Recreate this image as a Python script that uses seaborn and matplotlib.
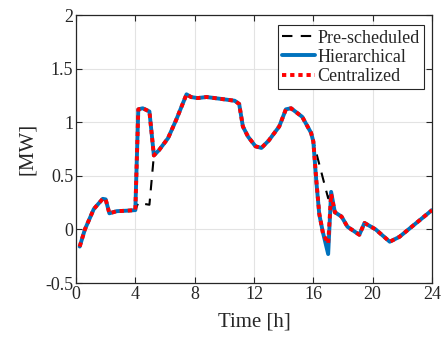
import numpy as np
import pandas as pd
import matplotlib
matplotlib.use("Agg")
import matplotlib.pyplot as plt
from matplotlib.ticker import FuncFormatter
import seaborn as sns

# Time axis (hours) and power profiles (MW)
time_h = [0.25, 0.6, 1.2, 1.8, 2.0, 2.25, 2.75, 3.5, 4.0, 4.2, 4.5, 4.95, 5.25,
          5.6, 6.2, 6.75, 7.45, 7.75, 8.2, 8.8, 9.9, 10.7, 11.0, 11.25, 11.6,
          12.1, 12.5, 13.0, 13.7, 14.15, 14.5, 15.25, 15.85, 16.0, 16.2, 16.4,
          16.65, 17.0, 17.2, 17.45, 17.9, 18.3, 19.1, 19.45, 20.2, 21.15, 21.8,
          22.9, 24.0]

pre_scheduled = [-0.16, 0.0, 0.19, 0.285, 0.28, 0.15, 0.17, 0.175, 0.18, 0.25,
                 0.24, 0.23, 0.69, 0.74, 0.85, 1.02, 1.26, 1.235, 1.225, 1.235,
                 1.215, 1.20, 1.17, 0.96, 0.865, 0.775, 0.76, 0.83, 0.96, 1.12,
                 1.13, 1.05, 0.90, 0.82, 0.714, 0.608, 0.475, 0.29, 0.35, 0.16,
                 0.12, 0.025, -0.05, 0.06, 0.0, -0.115, -0.07, 0.055, 0.18]

hierarchical = [-0.16, 0.0, 0.19, 0.285, 0.28, 0.15, 0.17, 0.175, 0.18, 1.12,
                1.13, 1.10, 0.69, 0.74, 0.85, 1.02, 1.26, 1.235, 1.225, 1.235,
                1.215, 1.20, 1.17, 0.96, 0.865, 0.775, 0.76, 0.83, 0.96, 1.12,
                1.13, 1.05, 0.90, 0.82, 0.45, 0.14, -0.03, -0.23, 0.35, 0.16,
                0.12, 0.025, -0.05, 0.06, 0.0, -0.115, -0.07, 0.055, 0.18]

centralized = [-0.16, 0.0, 0.19, 0.285, 0.28, 0.15, 0.17, 0.175, 0.18, 1.12,
               1.13, 1.10, 0.69, 0.74, 0.85, 1.02, 1.26, 1.235, 1.225, 1.235,
               1.215, 1.20, 1.17, 0.96, 0.865, 0.775, 0.76, 0.83, 0.96, 1.12,
               1.13, 1.05, 0.90, 0.82, 0.46, 0.15, -0.04, -0.13, 0.33, 0.16,
               0.12, 0.025, -0.05, 0.06, 0.0, -0.115, -0.07, 0.055, 0.18]

x_ticks = [0, 4, 8, 12, 16, 20, 24]
y_ticks = [-0.5, 0, 0.5, 1, 1.5, 2]

sns.set_style("ticks")
plt.rcParams["font.family"] = ["Liberation Serif", "DejaVu Serif"]
plt.rcParams["axes.unicode_minus"] = False
plt.rcParams["font.size"] = 13

fig = plt.figure(figsize=(4.45, 3.42), dpi=100)
ax = fig.add_axes([76 / 445, 1 - 283 / 342, (432 - 76) / 445, (283 - 15) / 342])

sns.lineplot(x=time_h, y=pre_scheduled, ax=ax, color="black", lw=1.5,
             label="Pre-scheduled", zorder=3)
ax.lines[-1].set_dashes((5, 4))
sns.lineplot(x=time_h, y=hierarchical, ax=ax, color="#0072BD", lw=2.8,
             label="Hierarchical", zorder=4)
sns.lineplot(x=time_h, y=centralized, ax=ax, color="#FF0000", lw=2.8,
             label="Centralized", zorder=5)
ax.lines[-1].set_dashes((1.1, 1.0))

ax.set_xlim(0, 24)
ax.set_ylim(-0.5, 2)
ax.set_xticks(x_ticks)
ax.set_yticks(y_ticks)
ax.yaxis.set_major_formatter(FuncFormatter(lambda v, _: f"{v:g}"))
ax.grid(True, color="#e3e3e3", lw=0.8)
ax.set_axisbelow(True)
ax.tick_params(direction="in", top=True, right=True, length=4, width=0.8,
               colors="#262626", labelcolor="#262626", labelsize=13, pad=2)
for s in ax.spines.values():
    s.set_color("#262626")
    s.set_linewidth(0.9)

ax.set_xlabel("Time [h]", fontsize=15, labelpad=7, color="#262626")
ax.set_ylabel("[MW]", fontsize=15, labelpad=6, color="#262626")

leg = ax.legend(loc="upper right", bbox_to_anchor=(424 / 356 - 76 / 356, 1 - 10 / 268),
                fontsize=13, frameon=True, fancybox=False,
                edgecolor="#262626", framealpha=1, handlelength=1.8,
                handletextpad=0.15, borderpad=0.25, labelspacing=0.12,
                borderaxespad=0.0)
leg.get_frame().set_linewidth(0.8)

fig.savefig("out.png", dpi=100)
